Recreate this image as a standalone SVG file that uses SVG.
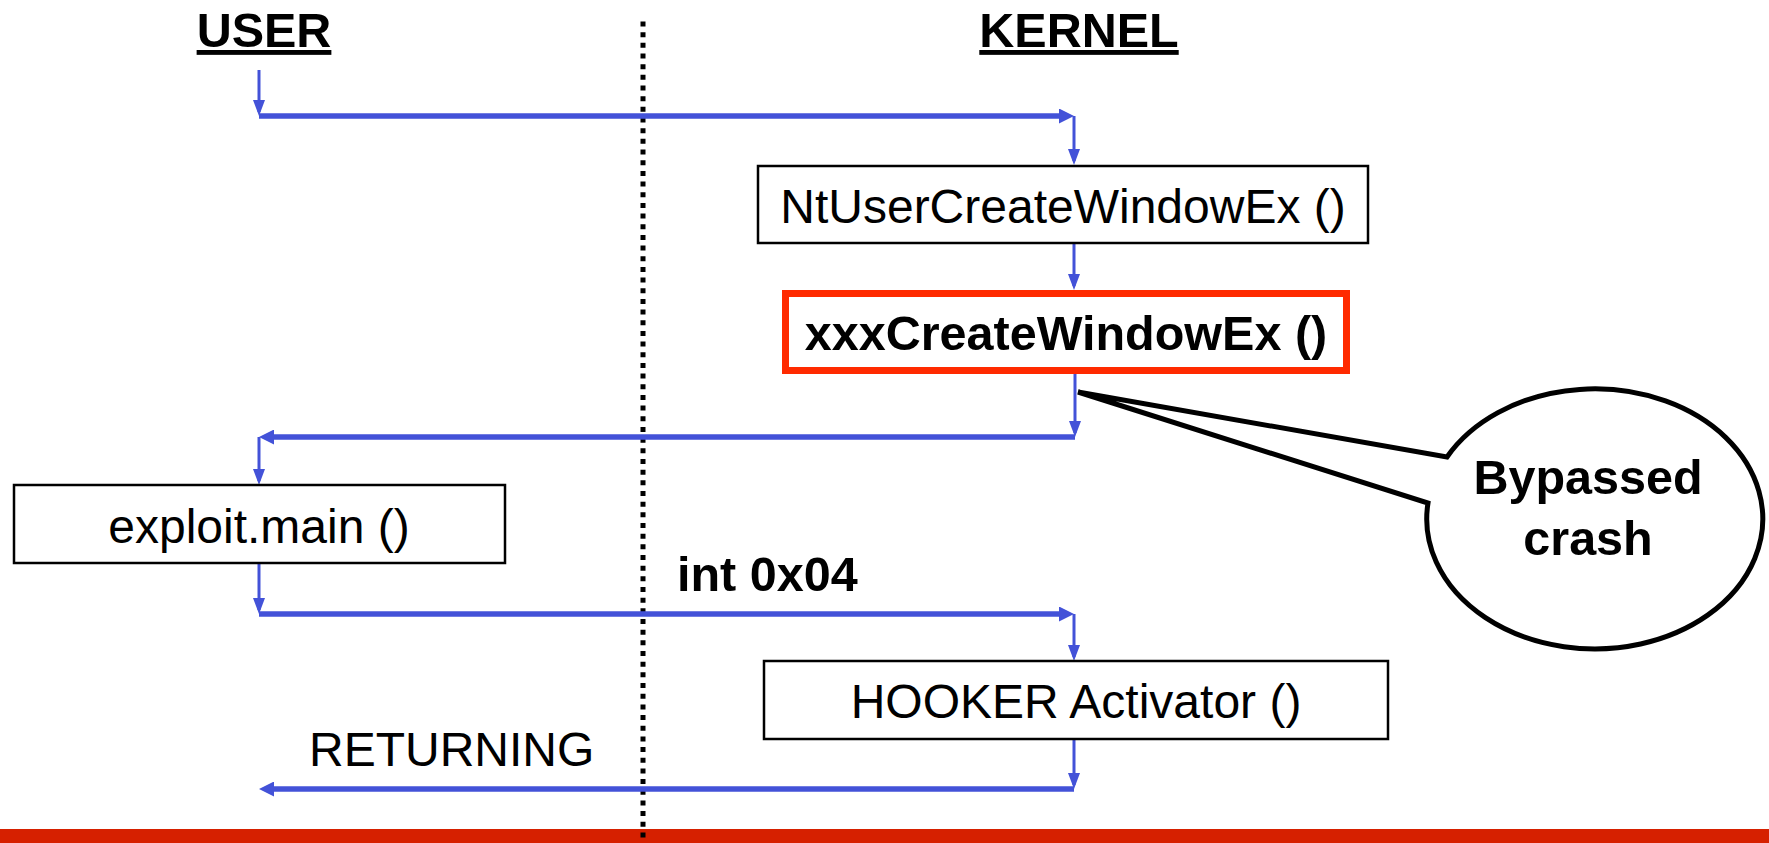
<svg xmlns="http://www.w3.org/2000/svg" width="1769" height="843" viewBox="0 0 1769 843">
<style>
.t{font-family:"Liberation Sans",Arial,sans-serif;font-size:48px;fill:#000}
.b{font-weight:bold;font-size:48.5px}
.box{fill:#fff;stroke:#000;stroke-width:2.5}
.v{stroke:#4352d8;stroke-width:3;fill:none}
.h{stroke:#4352d8;stroke-width:5.5;fill:none}
</style>
<defs>
<marker id="av" markerUnits="userSpaceOnUse" markerWidth="16" markerHeight="12" refX="12" refY="6" orient="auto">
<path d="M0,0 L16,6 L0,12 Z" fill="#4352d8"/>
</marker>
<marker id="ah" markerUnits="userSpaceOnUse" markerWidth="15" markerHeight="15" refX="9" refY="7.5" orient="auto">
<path d="M0,0 L15,7.5 L0,15 Z" fill="#4352d8"/>
</marker>
</defs>
<rect x="0" y="829" width="1769" height="14" fill="#d62000"/>
<line x1="643" y1="21.5" x2="643" y2="843" stroke="#000" stroke-width="5" stroke-dasharray="5 5.67"/>
<g id="labels">
<text class="t b" x="264" y="47" text-anchor="middle" text-decoration="underline">USER</text>
<text class="t b" x="1079" y="47" text-anchor="middle" text-decoration="underline">KERNEL</text>
<text class="t b" x="677" y="591">int 0x04</text>
<text class="t" x="309" y="766">RETURNING</text>
</g>
<g id="connectors">
<line class="v" x1="259" y1="70" x2="259" y2="112" marker-end="url(#av)"/>
<line class="h" x1="259" y1="116" x2="1068" y2="116" marker-end="url(#ah)"/>
<line class="v" x1="1074" y1="116" x2="1074" y2="161" marker-end="url(#av)"/>
<line class="v" x1="1074" y1="243" x2="1074" y2="286" marker-end="url(#av)"/>
<line class="v" x1="1075" y1="374" x2="1075" y2="433" marker-end="url(#av)"/>
<line class="h" x1="1075" y1="437" x2="265" y2="437" marker-end="url(#ah)"/>
<line class="v" x1="259" y1="437" x2="259" y2="481" marker-end="url(#av)"/>
<line class="v" x1="259" y1="563" x2="259" y2="610" marker-end="url(#av)"/>
<line class="h" x1="259" y1="614" x2="1068" y2="614" marker-end="url(#ah)"/>
<line class="v" x1="1074" y1="614" x2="1074" y2="657" marker-end="url(#av)"/>
<line class="v" x1="1074" y1="739" x2="1074" y2="785" marker-end="url(#av)"/>
<line class="h" x1="1074" y1="789" x2="265" y2="789" marker-end="url(#ah)"/>
</g>
<g id="ntuser">
<rect class="box" x="758" y="166" width="610" height="77"/>
<text class="t" x="1063" y="223" text-anchor="middle">NtUserCreateWindowEx ()</text>
</g>
<g id="xxx">
<rect x="785.5" y="293.5" width="561" height="77" fill="#fff" stroke="#ff2a00" stroke-width="7"/>
<text class="t b" x="1066" y="350" text-anchor="middle">xxxCreateWindowEx ()</text>
</g>
<g id="exploit">
<rect class="box" x="14" y="485" width="491" height="78"/>
<text class="t" x="259" y="543" text-anchor="middle">exploit.main ()</text>
</g>
<g id="hooker">
<rect class="box" x="764" y="661" width="624" height="78"/>
<text class="t" x="1076" y="718" text-anchor="middle">HOOKER Activator ()</text>
</g>
<g id="callout">
<path d="M1078 392 L1447 457 A168 130 0 1 1 1428 503 Z" fill="#fff" stroke="#000" stroke-width="5" stroke-linejoin="miter"/>
<text class="t b" x="1588" y="494" text-anchor="middle" font-size="48">Bypassed</text>
<text class="t b" x="1588" y="555" text-anchor="middle" font-size="48">crash</text>
</g>
</svg>
